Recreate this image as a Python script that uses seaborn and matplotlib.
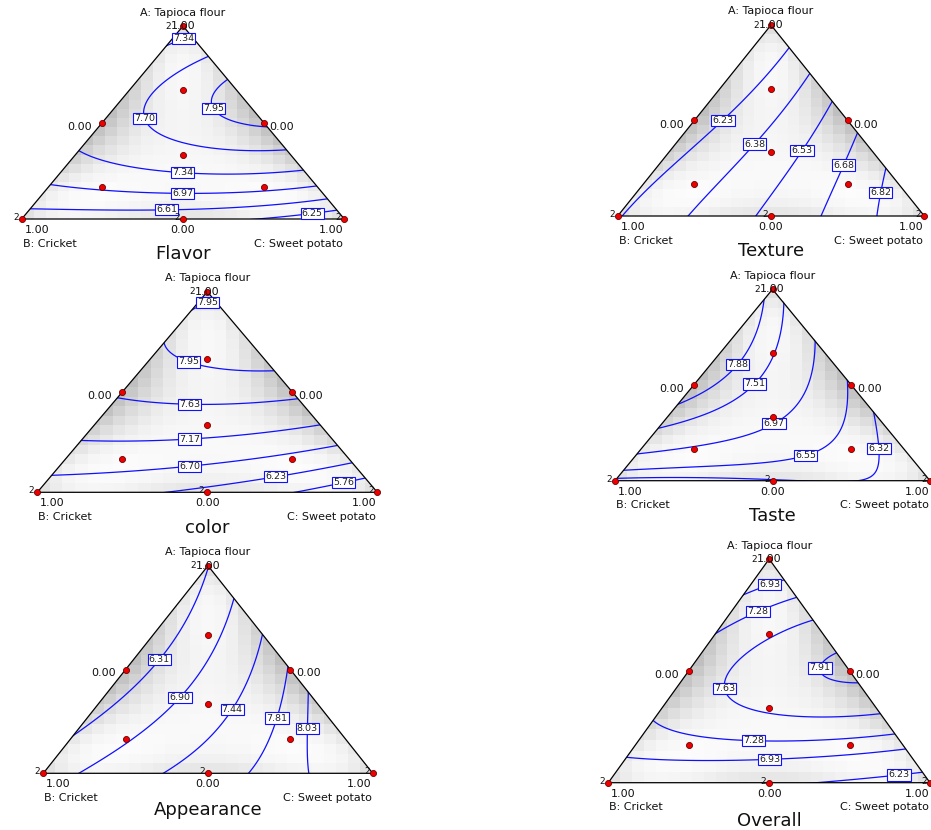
import numpy as np
import pandas as pd
import matplotlib
matplotlib.use("Agg")
import matplotlib.pyplot as plt
import seaborn as sns
from matplotlib.patches import Polygon

sns.set_style("white")
plt.rcParams["font.family"] = ["DejaVu Sans"]

W, H = 931, 830

# ---------------- design (mixture fractions A, B, C) ----------------
DESIGN_A = [1, 0, 0, 0.5, 0.5, 0, 1/3, 2/3, 1/6, 1/6]
DESIGN_B = [0, 1, 0, 0.5, 0, 0.5, 1/3, 1/6, 2/3, 1/6]
DESIGN_C = [0, 0, 1, 0, 0.5, 0.5, 1/3, 1/6, 1/6, 2/3]
DESIGN_REPS = [2, 2, 2, 1, 1, 2, 1, 1, 1, 1]

# ---------------- responses ----------------
# each entry: (level, [(x, a), ...]) with x across B->C and a = A fraction
FLAVOR_LEVELS = [6.25, 6.61, 6.97, 7.34, 7.70, 7.95]
FLAVOR_TRACE = [
    (6.25, [(0.749, 0.0), (0.82, 0.02), (0.977, 0.047)]),
    (6.61, [(0.0275, 0.055), (0.243, 0.047), (0.5, 0.043), (0.76, 0.067), (0.947, 0.107)]),
    (6.97, [(0.09, 0.18), (0.243, 0.159), (0.5, 0.14), (0.759, 0.147), (0.918, 0.164)]),
    (7.34, [(0.1725, 0.345), (0.35, 0.27), (0.5, 0.24), (0.759, 0.244), (0.873, 0.254),
            (0.4465, 0.893), (0.5, 0.935), (0.5275, 0.945)]),
    (7.70, [(0.579, 0.841), (0.418, 0.634), (0.377, 0.513), (0.408, 0.444), (0.47, 0.392),
            (0.656, 0.358), (0.823, 0.354)]),
    (7.95, [(0.633, 0.734), (0.584, 0.617), (0.594, 0.547), (0.656, 0.504), (0.75, 0.501)]),
]
FLAVOR_VERTEX = [7.15, 6.45, 5.95]
FLAVOR_LABELS = [(7.34, 0.5, 0.94), (7.95, 0.594, 0.57), (7.70, 0.377, 0.518), (7.34, 0.499, 0.249),
                 (6.97, 0.499, 0.145), (6.61, 0.449, 0.052), (6.25, 0.899, 0.055)]

TEXTURE_LEVELS = [6.23, 6.38, 6.53, 6.68, 6.82]
TEXTURE_TRACE = [
    (6.23, [(0.055, 0.11), (0.182, 0.258), (0.35, 0.49), (0.453, 0.677), (0.5635, 0.873)]),
    (6.38, [(0.217, 0.0), (0.345, 0.206), (0.45, 0.377), (0.54, 0.607), (0.631, 0.738)]),
    (6.53, [(0.459, 0.0), (0.562, 0.223), (0.6, 0.346), (0.682, 0.555), (0.70, 0.599)]),
    (6.68, [(0.66, 0.0), (0.714, 0.154), (0.733, 0.27), (0.779, 0.442)]),
    (6.82, [(0.839, 0.0), (0.855, 0.122), (0.88, 0.241)]),
]
TEXTURE_VERTEX = [6.1, 6.2, 6.95]
TEXTURE_LABELS = [(6.23, 0.35, 0.49), (6.38, 0.448, 0.377), (6.53, 0.6, 0.346),
                  (6.68, 0.733, 0.27), (6.82, 0.855, 0.122)]

COLOR_LEVELS = [5.76, 6.23, 6.70, 7.17, 7.63, 7.95]
COLOR_TRACE = [
    (5.76, [(0.772, 0.0), (0.87, 0.045), (0.957, 0.086)]),
    (6.23, [(0.41, 0.0), (0.596, 0.05), (0.699, 0.088), (0.919, 0.153)]),
    (6.70, [(0.05, 0.1), (0.233, 0.12), (0.449, 0.136), (0.596, 0.148), (0.8845, 0.231)]),
    (7.17, [(0.125, 0.249), (0.282, 0.246), (0.449, 0.266), (0.596, 0.27), (0.845, 0.31)]),
    (7.63, [(0.234, 0.468), (0.331, 0.435), (0.449, 0.444), (0.576, 0.452), (0.76, 0.48)]),
    (7.95, [(0.392, 0.784), (0.388, 0.743), (0.40, 0.684), (0.498, 0.635), (0.596, 0.613),
            (0.695, 0.61), (0.456, 0.912), (0.49, 0.95), (0.503, 0.967)]),
]
COLOR_VERTEX = [7.85, 6.5, 5.4]
COLOR_LABELS = [(7.95, 0.5, 0.95), (7.95, 0.447, 0.66), (7.63, 0.449, 0.444), (7.17, 0.449, 0.266),
                (6.70, 0.449, 0.136), (6.23, 0.699, 0.091), (5.76, 0.9, 0.061)]

TASTE_LEVELS = [6.32, 6.55, 6.97, 7.51, 7.88]
TASTE_TRACE = [
    (7.88, [(0.48, 0.95), (0.475, 0.927), (0.459, 0.753), (0.38, 0.618), (0.312, 0.526), (0.198, 0.395)]),
    (7.51, [(0.528, 0.909), (0.523, 0.753), (0.507, 0.648), (0.433, 0.52), (0.343, 0.369),
            (0.238, 0.3), (0.135, 0.27)]),
    (6.97, [(0.628, 0.744), (0.644, 0.613), (0.628, 0.474), (0.576, 0.369), (0.5, 0.317),
            (0.364, 0.213), (0.206, 0.169), (0.07, 0.139)]),
    (6.55, [(0.7265, 0.547), (0.732, 0.369), (0.702, 0.247), (0.602, 0.155), (0.417, 0.099),
            (0.206, 0.073), (0.03, 0.059)]),
    (6.32, [(0.8155, 0.369), (0.834, 0.282), (0.845, 0.169), (0.852, 0.047), (0.797, 0.0),
            (0.2, 0.012), (0.45, 0.0)]),
]
TASTE_VERTEX = [7.7, 6.25, 6.2]
TASTE_LABELS = [(7.88, 0.38, 0.618), (7.51, 0.433, 0.521), (6.97, 0.5, 0.317),
                (6.55, 0.602, 0.155), (6.32, 0.845, 0.169)]

APPEAR_LEVELS = [6.31, 6.90, 7.44, 7.81, 8.03]
APPEAR_TRACE = [
    (6.31, [(0.5, 0.99), (0.476, 0.883), (0.435, 0.706), (0.349, 0.551), (0.273, 0.433),
            (0.182, 0.289), (0.083, 0.165)]),
    (6.90, [(0.5785, 0.843), (0.536, 0.674), (0.496, 0.482), (0.413, 0.369), (0.314, 0.209),
            (0.213, 0.096), (0.101, 0.0)]),
    (7.44, [(0.667, 0.666), (0.628, 0.514), (0.565, 0.318), (0.486, 0.128), (0.364, 0.0)]),
    (7.81, [(0.743, 0.514), (0.724, 0.401), (0.701, 0.27), (0.668, 0.128), (0.607, 0.0)]),
    (8.03, [(0.809, 0.382), (0.808, 0.289), (0.806, 0.217), (0.815, 0.08), (0.82, 0.0)]),
]
APPEAR_VERTEX = [6.3, 6.6, 8.3]
APPEAR_LABELS = [(6.31, 0.349, 0.551), (6.90, 0.413, 0.369), (7.44, 0.565, 0.318),
                 (7.81, 0.701, 0.27), (8.03, 0.806, 0.217)]

OVERALL_LEVELS = [6.23, 6.93, 7.28, 7.63, 7.91]
OVERALL_TRACE = [
    (6.23, [(0.782, 0.0), (0.904, 0.046), (0.971, 0.057)]),
    (6.93, [(0.0655, 0.131), (0.275, 0.094), (0.5, 0.112), (0.741, 0.139), (0.92, 0.159),
            (0.407, 0.814), (0.46, 0.845), (0.503, 0.875), (0.56, 0.88)]),
    (7.28, [(0.137, 0.273), (0.275, 0.221), (0.451, 0.198), (0.534, 0.185), (0.741, 0.213),
            (0.892, 0.216), (0.335, 0.671), (0.463, 0.772), (0.596, 0.809)]),
    (7.63, [(0.637, 0.724), (0.513, 0.668), (0.409, 0.593), (0.358, 0.496), (0.342, 0.419),
            (0.389, 0.34), (0.534, 0.3), (0.741, 0.291), (0.849, 0.3025)]),
    (7.91, [(0.696, 0.608), (0.62, 0.519), (0.653, 0.452), (0.79, 0.419)]),
    (8.02, [(0.75, 0.5)]),
]
OVERALL_VERTEX = [6.7, 6.6, 6.0]
OVERALL_LABELS = [(6.93, 0.503, 0.875), (7.28, 0.463, 0.772), (7.91, 0.62, 0.519), (7.63, 0.342, 0.419),
                  (7.28, 0.451, 0.198), (6.93, 0.5, 0.112), (6.23, 0.904, 0.046)]

TITLES = ["Flavor", "Texture", "color", "Taste", "Appearance", "Overall"]

# ---------------- layout (pixels): B-vertex x, C-vertex x, apex y, base y, title drop ----------------
GEOM = [
    (21.7, 344.3, 26.0, 219.0, 35),
    (617.7, 924.3, 25.0, 216.0, 35),
    (37.3, 377.3, 291.7, 492.3, 36),
    (615.0, 930.0, 289.3, 480.7, 35),
    (43.3, 372.7, 565.7, 773.3, 37),
    (608.3, 930.0, 559.0, 782.7, 38),
]

PANELS = [
    (FLAVOR_TRACE, FLAVOR_VERTEX, FLAVOR_LEVELS, FLAVOR_LABELS),
    (TEXTURE_TRACE, TEXTURE_VERTEX, TEXTURE_LEVELS, TEXTURE_LABELS),
    (COLOR_TRACE, COLOR_VERTEX, COLOR_LEVELS, COLOR_LABELS),
    (TASTE_TRACE, TASTE_VERTEX, TASTE_LEVELS, TASTE_LABELS),
    (APPEAR_TRACE, APPEAR_VERTEX, APPEAR_LEVELS, APPEAR_LABELS),
    (OVERALL_TRACE, OVERALL_VERTEX, OVERALL_LEVELS, OVERALL_LABELS),
]


def bary(x, a):
    A = a
    C = x - a / 2.0
    B = 1.0 - A - C
    return A, B, C


def cubic_terms(A, B, C):
    return np.stack([A, B, C, A * B, A * C, B * C, A * B * C,
                     A * B * (A - B), A * C * (A - C), B * C * (B - C)], axis=-1)


def quad_terms(A, B, C):
    return np.stack([A, B, C, A * B, A * C, B * C], axis=-1)


def fit_surface(trace, vertex):
    xs, as_, zs, ws = [], [], [], []
    for level, pts in trace:
        for (x, a) in pts:
            xs.append(x); as_.append(a); zs.append(level); ws.append(1.0)
    for (x, a), z in zip([(0.5, 1.0), (0.0, 0.0), (1.0, 0.0)], vertex):
        xs.append(x); as_.append(a); zs.append(z); ws.append(0.8)
    xs, as_, zs, ws = map(np.asarray, (xs, as_, zs, ws))
    A, B, C = bary(xs, as_)
    X = cubic_terms(A, B, C) * ws[:, None]
    coef, *_ = np.linalg.lstsq(X, zs * ws, rcond=None)
    return coef


# standard-error pattern of the design (quadratic model) for the grey shading
dA = np.repeat(DESIGN_A, DESIGN_REPS)
dB = np.repeat(DESIGN_B, DESIGN_REPS)
dC = np.repeat(DESIGN_C, DESIGN_REPS)
XD = quad_terms(np.array(dA), np.array(dB), np.array(dC))
XtX_inv = np.linalg.inv(XD.T @ XD)

ncx, nca = 27, 21
xe = np.linspace(0, 1, ncx + 1)
ae = np.linspace(0, 1, nca + 1)
XC, ACc = np.meshgrid((xe[:-1] + xe[1:]) / 2, (ae[:-1] + ae[1:]) / 2)
Ac = np.clip(ACc, 0, 1)
Cc = np.clip(XC - Ac / 2, 0, 1 - Ac)
Bc = 1 - Ac - Cc
F = quad_terms(Ac, Bc, Cc)
SE = np.sqrt(np.einsum("...i,ij,...j->...", F, XtX_inv, F))
se_lo, se_hi = SE.min(), SE.max()

gx = np.linspace(-0.03, 1.03, 320)
ga = np.linspace(-0.03, 1.03, 280)
GX, GA = np.meshgrid(gx, ga)
GAb, GBb, GCb = bary(GX, GA)
GT = cubic_terms(GAb, GBb, GCb)

fig = plt.figure(figsize=(W / 100, H / 100), dpi=100)

SMALL = 8
TXT = "#111111"
LINE = "#1010ff"

pts_df = pd.DataFrame({
    "x": np.array(DESIGN_C) + np.array(DESIGN_A) / 2.0,
    "a": np.array(DESIGN_A, dtype=float),
})

for (trace, vertex, levels, labels), (blx, brx, top, bot, tdrop), title in zip(PANELS, GEOM, TITLES):
    pw, ph = brx - blx, bot - top
    ax = fig.add_axes([blx / W, 1 - bot / H, pw / W, ph / H])
    tri = Polygon([(0, 0), (1, 0), (0.5, 1)], closed=True, transform=ax.transData,
                  fc="none", ec="none")

    mesh = ax.pcolormesh(xe, ae, SE, cmap="Greys", shading="flat",
                         vmin=se_lo - 0.03 * (se_hi - se_lo) / 0.36,
                         vmax=se_lo + (se_hi - se_lo) / 0.36, zorder=0)
    mesh.set_clip_path(tri)

    coef = fit_surface(trace, vertex)
    Z = GT @ coef
    lv = sorted(set(levels))
    cs = ax.contour(GX, GA, Z, levels=lv, colors=LINE, linewidths=0.9, zorder=2)
    cs.set_clip_path(tri)

    # contour value boxes, placed on the nearest point of the matching contour
    for lev, lx, la in labels:
        k = int(np.argmin([abs(v - lev) for v in cs.levels]))
        segs = [s for s in cs.allsegs[k] if len(s)]
        px, pa = lx, la
        if segs:
            P = np.vstack(segs)
            A_, B_, C_ = bary(P[:, 0], P[:, 1])
            inside = (A_ >= -1e-6) & (B_ >= -1e-6) & (C_ >= -1e-6)
            if inside.any():
                P = P[inside]
            d = ((P[:, 0] - lx) * pw) ** 2 + ((P[:, 1] - la) * ph) ** 2
            px, pa = P[np.argmin(d)]
        ax.text(px, pa, f"{lev:.2f}", ha="center", va="center", fontsize=6.8, color="#222222",
                zorder=4, clip_on=False,
                bbox=dict(boxstyle="square,pad=0.12", fc="white", ec=LINE, lw=0.8))

    ax.plot([0, 1, 0.5, 0], [0, 0, 1, 0], color="black", lw=0.9, zorder=3, clip_on=False)

    sns.scatterplot(data=pts_df, x="x", y="a", ax=ax, color="#ee0000", edgecolor="#6a0000",
                    linewidth=0.6, s=19, zorder=6, clip_on=False, legend=False)

    ax.set_xlim(0, 1)
    ax.set_ylim(0, 1)
    ax.axis("off")

    def put(s, xy, dx, dy, ha, size=SMALL, va="center"):
        ax.annotate(s, xy=xy, xytext=(dx, dy), textcoords="offset pixels", ha=ha, va=va,
                    fontsize=size, color=TXT, annotation_clip=False, zorder=7)

    for xa, aa, r in zip(pts_df["x"], pts_df["a"], DESIGN_REPS):
        if r > 1:
            if aa > 0.99:
                put(str(r), (xa, aa), -12.5, 0, "right", size=6.5)
            else:
                put(str(r), (xa, aa), -3, 1.5, "right", size=6.5)

    put("A: Tapioca flour", (0.5, 1.0), 0, 13.5, "center")
    put("1.00", (0.5, 1.0), 0, 0, "center")
    put("0.00", (0.25, 0.5), -10, -4, "right")
    put("0.00", (0.75, 0.5), 6, -4, "left")
    put("1.00", (0.0, 0.0), 3, -11, "left")
    put("0.00", (0.5, 0.0), 0, -11, "center")
    put("1.00", (1.0, 0.0), -1, -11, "right")
    put("B: Cricket", (0.0, 0.0), 1, -24.5, "left")
    put("C: Sweet potato", (1.0, 0.0), -1, -24.5, "right")
    put(title, (0.5, 0.0), 0, -tdrop, "center", size=13)

fig.savefig("out.png", dpi=100)
